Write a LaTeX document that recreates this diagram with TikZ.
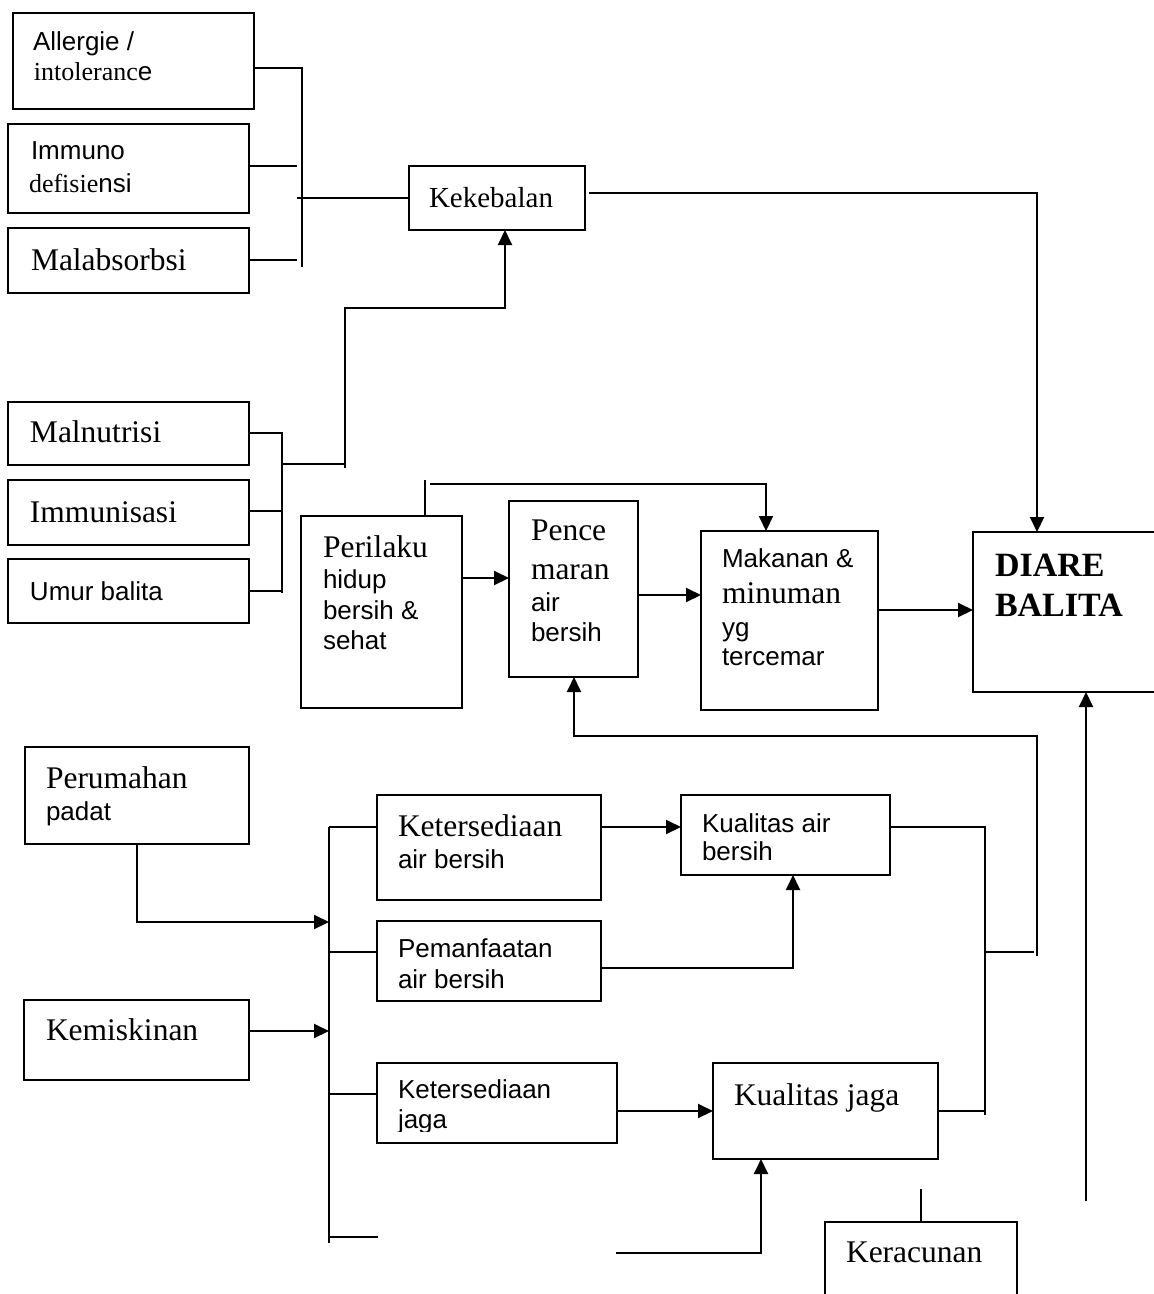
\documentclass[tikz,border=0pt]{standalone}
\usepackage{fontspec}
\setmainfont{Liberation Serif}
\setsansfont{Liberation Sans}
\usetikzlibrary{arrows.meta}
\newcommand{\sfT}{\sffamily\fontsize{26}{30}\selectfont}
\newcommand{\rmS}{\rmfamily\fontsize{26}{30}\selectfont}
\newcommand{\rmT}{\rmfamily\fontsize{31.5}{36}\selectfont}
\tikzset{
  box/.style={draw, line width=2pt, rectangle, inner sep=0pt, outer sep=0pt, anchor=north west},
  lbl/.style={anchor=base west, inner sep=0pt, outer sep=0pt},
  ln/.style={line width=2pt},
  arr/.style={line width=2pt, -{Triangle[length=15pt,width=14pt]}}
}
\begin{document}
\begin{tikzpicture}[x=1pt,y=-1pt]
\useasboundingbox (0,0) rectangle (1154,1294);
\clip (0,0) rectangle (1154,1294);
% boxes
\node[box, minimum width=241, minimum height=96] (allergie) at (13,13) {};
\node[box, minimum width=241, minimum height=89] (immuno) at (8,124) {};
\node[box, minimum width=241, minimum height=65] (malabs) at (8,228) {};
\node[box, minimum width=176, minimum height=64] (kekebalan) at (409,166) {};
\node[box, minimum width=241, minimum height=63] (malnut) at (8,402) {};
\node[box, minimum width=241, minimum height=65] (immunis) at (8,480) {};
\node[box, minimum width=241, minimum height=64] (umur) at (8,559) {};
\node[box, minimum width=161, minimum height=192] (perilaku) at (301,516) {};
\node[box, minimum width=129, minimum height=176] (pencem) at (509,501) {};
\node[box, minimum width=177, minimum height=179] (makanan) at (701,531) {};
\node[box, minimum width=200, minimum height=160] (diare) at (973,532) {};
\node[box, minimum width=224, minimum height=97] (perumahan) at (25,747) {};
\node[box, minimum width=225, minimum height=80] (kemiskinan) at (24,1000) {};
\node[box, minimum width=224, minimum height=105] (ketair) at (377,795) {};
\node[box, minimum width=224, minimum height=80] (pemanf) at (377,921) {};
\node[box, minimum width=240, minimum height=80] (ketjaga) at (377,1063) {};
\node[box, minimum width=209, minimum height=80] (kualair) at (681,795) {};
\node[box, minimum width=225, minimum height=96] (kualjaga) at (713,1063) {};
\node[box, minimum width=192, minimum height=100] (keracunan) at (825,1222) {};
% texts
\node[lbl] (t1a) at (33,50) {\sfT Allergie /};
\node[lbl] (t1b) at (34,80) {\rmS intoleranc{\sfT e}};
\node[lbl] (t2a) at (31,159) {\sfT Immuno};
\node[lbl] (t2b) at (29,192) {\rmS defisie{\sfT nsi}};
\node[lbl] (t3) at (31,270) {\rmT Malabsorbsi};
\node[lbl] (t4) at (429,207) {\rmfamily\fontsize{29}{34}\selectfont Kekebalan};
\node[lbl] (t5) at (30,442) {\rmT Malnutrisi};
\node[lbl] (t6) at (30,522) {\rmT Immunisasi};
\node[lbl] (t7) at (30,600) {\sfT Umur balita};
\node[lbl] (t8a) at (323,557) {\rmT Perilaku};
\node[lbl] (t8b) at (323,588) {\sfT hidup};
\node[lbl] (t8c) at (323,619) {\sfT bersih \&};
\node[lbl] (t8d) at (323,649) {\sfT sehat};
\node[lbl] (t9a) at (531,540) {\rmT Pence};
\node[lbl] (t9b) at (531,579) {\rmT maran};
\node[lbl] (t9c) at (531,611) {\sfT air};
\node[lbl] (t9d) at (531,641) {\sfT bersih};
\node[lbl] (t10a) at (722,567) {\sfT Makanan \&};
\node[lbl] (t10b) at (722,603) {\rmT minuman};
\node[lbl] (t10c) at (722,636) {\sfT yg};
\node[lbl] (t10d) at (722,665) {\sfT tercemar};
\node[lbl] (t11a) at (995,576) {\rmfamily\bfseries\fontsize{34}{38}\selectfont DIARE};
\node[lbl] (t11b) at (995,616) {\rmfamily\bfseries\fontsize{34}{38}\selectfont BALITA};
\node[lbl] (t12a) at (46,788) {\rmT Perumahan};
\node[lbl] (t12b) at (46,820) {\sfT padat};
\node[lbl] (t13) at (46,1040) {\rmT Kemiskinan};
\node[lbl] (t14a) at (398,836) {\rmT Ketersediaan};
\node[lbl] (t14b) at (398,868) {\sfT air bersih};
\node[lbl] (t15a) at (398,957) {\sfT Pemanfaatan};
\node[lbl] (t15b) at (398,988) {\sfT air bersih};
\node[lbl] (t16a) at (398,1098) {\sfT Ketersediaan};
\begin{scope}
\clip (378,1064) rectangle (616,1131);
\node[lbl] (t16b) at (398,1128) {\sfT jaga};
\end{scope}
\node[lbl] (t17a) at (702,832) {\sfT Kualitas air};
\node[lbl] (t17b) at (702,860) {\sfT bersih};
\node[lbl] (t18) at (734,1105) {\rmT Kualitas jaga};
\node[lbl] (t19) at (846,1262) {\rmT Keracunan};
% free coordinates
\coordinate (b1top) at (302,68);
\coordinate (b1bot) at (302,267);
\coordinate (b1a) at (297,166);
\coordinate (b1b) at (297,260);
\coordinate (b1c) at (297,198);
\coordinate (kkA) at (589,193);
\coordinate (kkB) at (1037,193);
\coordinate (b2top) at (282,433);
\coordinate (b2bot) at (282,593);
\coordinate (b2m) at (282,511);
\coordinate (b2u) at (282,591);
\coordinate (b2o) at (282,464);
\coordinate (b2p) at (345,464);
\coordinate (b2q) at (345,468);
\coordinate (b2r) at (345,308);
\coordinate (b2s) at (505,308);
\coordinate (prA) at (425,480);
\coordinate (prB) at (430,484);
\coordinate (prC) at (766,484);
\coordinate (rtA) at (1037,956);
\coordinate (rtB) at (1037,736);
\coordinate (rtC) at (574,736);
\coordinate (b3top) at (985,827);
\coordinate (b3bot) at (985,1115);
\coordinate (b3j) at (985,1111);
\coordinate (b3m) at (985,952);
\coordinate (b3e) at (1034,952);
\coordinate (dbA) at (1086,1201);
\coordinate (peA) at (137,922);
\coordinate (b4top) at (329,827);
\coordinate (b4bot) at (329,1243);
\coordinate (b4p) at (329,922);
\coordinate (b4k) at (329,1031);
\coordinate (b4b) at (329,952);
\coordinate (b4c) at (329,1094);
\coordinate (b4d) at (329,1237);
\coordinate (b4e) at (378,1237);
\coordinate (pmA) at (793,968);
\coordinate (kjA) at (616,1253);
\coordinate (kjB) at (761,1253);
\coordinate (krA) at (921,1189);
% connectors
\draw[ln] (allergie.east |- b1top) -- (b1top) -- (b1bot);
\draw[ln] (immuno.east |- b1a) -- (b1a);
\draw[ln] (malabs.east |- b1b) -- (b1b);
\draw[ln] (b1c) -- (kekebalan.west |- b1c);
\draw[arr] (kkA) -- (kkB) -- (diare.north -| kkB);
\draw[ln] (malnut.east |- b2top) -- (b2top) -- (b2bot);
\draw[ln] (immunis.east |- b2m) -- (b2m);
\draw[ln] (umur.east |- b2u) -- (b2u);
\draw[ln] (b2o) -- (b2p);
\draw[arr] (b2q) -- (b2r) -- (b2s) -- (kekebalan.south -| b2s);
\draw[ln] (perilaku.north -| prA) -- (prA);
\draw[arr] (prB) -- (prC) -- (makanan.north -| prC);
\draw[arr] (perilaku.east |- 0,578) -- (pencem.west |- 0,578);
\draw[arr] (pencem.east |- 0,595) -- (makanan.west |- 0,595);
\draw[arr] (makanan.east |- 0,610) -- (diare.west |- 0,610);
\draw[arr] (rtA) -- (rtB) -- (rtC) -- (pencem.south -| rtC);
\draw[ln] (kualair.east |- b3top) -- (b3top) -- (b3bot);
\draw[ln] (kualjaga.east |- b3j) -- (b3j);
\draw[ln] (b3m) -- (b3e);
\draw[arr] (dbA) -- (diare.south -| dbA);
\draw[arr] (perumahan.south -| peA) -- (peA) -- (b4p);
\draw[arr] (kemiskinan.east |- b4k) -- (b4k);
\draw[ln] (b4top) -- (b4bot);
\draw[ln] (b4top) -- (ketair.west |- b4top);
\draw[ln] (b4b) -- (pemanf.west |- b4b);
\draw[ln] (b4c) -- (ketjaga.west |- b4c);
\draw[ln] (b4d) -- (b4e);
\draw[arr] (ketair.east |- b4top) -- (kualair.west |- b4top);
\draw[arr] (pemanf.east |- pmA) -- (pmA) -- (kualair.south -| pmA);
\draw[arr] (ketjaga.east |- b3j) -- (kualjaga.west |- b3j);
\draw[arr] (kjA) -- (kjB) -- (kualjaga.south -| kjB);
\draw[ln] (keracunan.north -| krA) -- (krA);
\end{tikzpicture}
\end{document}
